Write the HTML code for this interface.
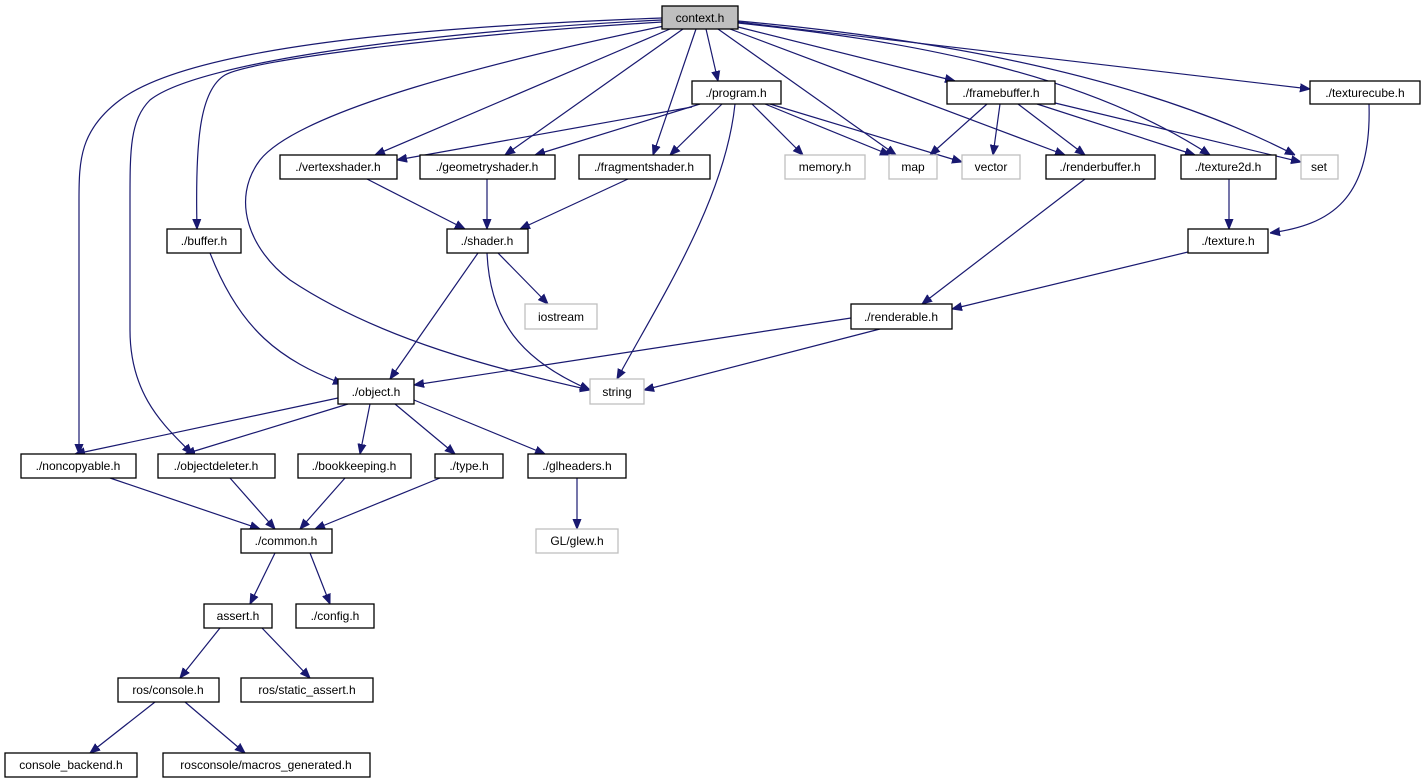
<!DOCTYPE html>
<html><head><meta charset="utf-8"><style>
html,body{margin:0;padding:0;background:#fff}
svg{display:block}
text{font-family:"Liberation Sans",sans-serif;font-size:12px;text-anchor:middle;fill:#000}
.n{fill:#fff;stroke:#000;stroke-width:1.3}
.g{fill:#fff;stroke:#bfbfbf;stroke-width:1.3}
.e{fill:none;stroke:#191970;stroke-width:1.2;marker-end:url(#a)}
</style></head><body>
<svg width="1425" height="784" viewBox="0 0 1425 784">
<defs><marker id="a" viewBox="0 0 10 10" refX="10" refY="5" markerWidth="10" markerHeight="10" markerUnits="userSpaceOnUse" orient="auto"><path d="M0,1 L10,5 L0,9 z" fill="#191970" stroke="#191970"/></marker></defs>
<g>
<path class="e" d="M662,18 C480,25 200,40 120,100 C80,130 79,160 79,200 L79,454"/>
<path class="e" d="M662,20 C450,30 200,60 150,100 C130,120 130,150 130,200 L130,330 C130,400 170,430 192,454"/>
<path class="e" d="M662,22 C450,35 250,60 225,75 C200,90 195,140 197,229"/>
<path class="e" d="M664,26 C500,60 300,110 260,160 C230,200 250,250 290,280 C380,340 500,370 590,390"/>
<path class="e" d="M670,29 L375,155"/>
<path class="e" d="M683,29 L505,155"/>
<path class="e" d="M696,29 L653,155"/>
<path class="e" d="M706,29 L718,81"/>
<path class="e" d="M718,29 L896,155"/>
<path class="e" d="M730,29 L1065,155"/>
<path class="e" d="M738,27 L955,81"/>
<path class="e" d="M738,23 C900,40 1080,70 1210,155"/>
<path class="e" d="M738,21 C950,40 1150,80 1295,155"/>
<path class="e" d="M738,22 L1310,89"/>
<path class="e" d="M692,107 L397,160"/>
<path class="e" d="M700,104 L535,155"/>
<path class="e" d="M722,104 L670,155"/>
<path class="e" d="M735,104 C725,200 660,300 617,379"/>
<path class="e" d="M752,104 L803,155"/>
<path class="e" d="M765,104 L890,155"/>
<path class="e" d="M770,104 L962,162"/>
<path class="e" d="M987,104 L930,155"/>
<path class="e" d="M1000,104 L993,155"/>
<path class="e" d="M1018,104 L1085,155"/>
<path class="e" d="M1037,104 L1195,155"/>
<path class="e" d="M1055,103 L1301,162"/>
<path class="e" d="M1369,104 C1372,200 1330,225 1270,233"/>
<path class="e" d="M1085,179 L922,304"/>
<path class="e" d="M1229,179 L1229,229"/>
<path class="e" d="M1188,252 L952,309"/>
<path class="e" d="M367,179 L465,229"/>
<path class="e" d="M487,179 L487,229"/>
<path class="e" d="M628,179 L520,229"/>
<path class="e" d="M478,253 L390,379"/>
<path class="e" d="M498,253 L548,304"/>
<path class="e" d="M487,253 C490,320 520,360 590,390"/>
<path class="e" d="M210,253 C240,330 280,360 343,384"/>
<path class="e" d="M851,318 L414,385"/>
<path class="e" d="M880,329 L644,390"/>
<path class="e" d="M338,398 L75,454"/>
<path class="e" d="M348,404 L185,454"/>
<path class="e" d="M370,404 L360,454"/>
<path class="e" d="M395,404 L455,454"/>
<path class="e" d="M414,400 L545,454"/>
<path class="e" d="M577,478 L577,529"/>
<path class="e" d="M110,478 L260,529"/>
<path class="e" d="M230,478 L275,529"/>
<path class="e" d="M345,478 L300,529"/>
<path class="e" d="M440,478 L315,529"/>
<path class="e" d="M275,553 L250,604"/>
<path class="e" d="M310,553 L330,604"/>
<path class="e" d="M220,628 L180,678"/>
<path class="e" d="M262,628 L310,678"/>
<path class="e" d="M155,702 L90,753"/>
<path class="e" d="M185,702 L245,753"/>
</g>
<g>
<rect x="662" y="6" width="76" height="23" fill="#bfbfbf" stroke="#000" stroke-width="1.3"/><text x="700" y="22">context.h</text>
<rect class="n" x="692" y="81" width="89" height="23"/><text x="736" y="97">./program.h</text>
<rect class="n" x="947" y="81" width="108" height="23"/><text x="1001" y="97">./framebuffer.h</text>
<rect class="n" x="1310" y="81" width="110" height="23"/><text x="1365" y="97">./texturecube.h</text>
<rect class="n" x="280" y="155" width="117" height="24"/><text x="338" y="171">./vertexshader.h</text>
<rect class="n" x="420" y="155" width="135" height="24"/><text x="487" y="171">./geometryshader.h</text>
<rect class="n" x="579" y="155" width="131" height="24"/><text x="644" y="171">./fragmentshader.h</text>
<rect class="g" x="785" y="155" width="80" height="24"/><text x="825" y="171">memory.h</text>
<rect class="g" x="889" y="155" width="48" height="24"/><text x="913" y="171">map</text>
<rect class="g" x="962" y="155" width="58" height="24"/><text x="991" y="171">vector</text>
<rect class="n" x="1046" y="155" width="109" height="24"/><text x="1100" y="171">./renderbuffer.h</text>
<rect class="n" x="1181" y="155" width="95" height="24"/><text x="1228" y="171">./texture2d.h</text>
<rect class="g" x="1301" y="155" width="37" height="24"/><text x="1319" y="171">set</text>
<rect class="n" x="167" y="229" width="74" height="24"/><text x="204" y="245">./buffer.h</text>
<rect class="n" x="447" y="229" width="81" height="24"/><text x="487" y="245">./shader.h</text>
<rect class="n" x="1188" y="229" width="80" height="24"/><text x="1228" y="245">./texture.h</text>
<rect class="g" x="525" y="304" width="72" height="25"/><text x="561" y="321">iostream</text>
<rect class="n" x="851" y="304" width="101" height="25"/><text x="901" y="321">./renderable.h</text>
<rect class="n" x="338" y="379" width="76" height="25"/><text x="376" y="396">./object.h</text>
<rect class="g" x="590" y="379" width="54" height="25"/><text x="617" y="396">string</text>
<rect class="n" x="21" y="454" width="115" height="24"/><text x="78" y="470">./noncopyable.h</text>
<rect class="n" x="158" y="454" width="117" height="24"/><text x="216" y="470">./objectdeleter.h</text>
<rect class="n" x="298" y="454" width="113" height="24"/><text x="354" y="470">./bookkeeping.h</text>
<rect class="n" x="435" y="454" width="68" height="24"/><text x="469" y="470">./type.h</text>
<rect class="n" x="528" y="454" width="98" height="24"/><text x="577" y="470">./glheaders.h</text>
<rect class="g" x="536" y="529" width="82" height="24"/><text x="577" y="545">GL/glew.h</text>
<rect class="n" x="241" y="529" width="91" height="24"/><text x="286" y="545">./common.h</text>
<rect class="n" x="204" y="604" width="68" height="24"/><text x="238" y="620">assert.h</text>
<rect class="n" x="296" y="604" width="78" height="24"/><text x="335" y="620">./config.h</text>
<rect class="n" x="118" y="678" width="101" height="24"/><text x="168" y="694">ros/console.h</text>
<rect class="n" x="241" y="678" width="132" height="24"/><text x="307" y="694">ros/static_assert.h</text>
<rect class="n" x="5" y="753" width="132" height="24"/><text x="71" y="769">console_backend.h</text>
<rect class="n" x="163" y="753" width="207" height="24"/><text x="266" y="769">rosconsole/macros_generated.h</text>
</g>
</svg>
</body></html>
